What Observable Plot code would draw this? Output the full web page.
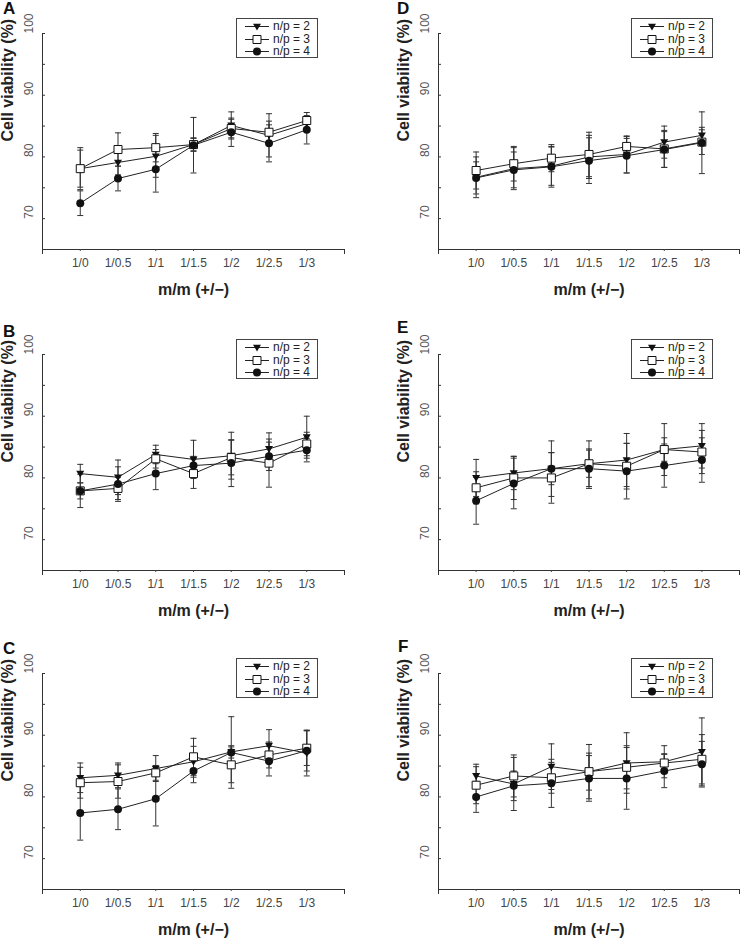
<!DOCTYPE html>
<html>
<head>
<meta charset="utf-8">
<script src="https://cdn.jsdelivr.net/npm/d3@7"></script>
<script src="https://cdn.jsdelivr.net/npm/@observablehq/plot@0.6"></script>
<style>
  html, body { margin: 0; padding: 0; background: #fff; overflow: hidden; }
  #root { position: relative; width: 740px; height: 938px; font-family: "Liberation Sans", Arial, sans-serif; }
  .panel { position: absolute; }
  .letter { position: absolute; font-weight: bold; font-size: 17px; line-height: 18px; color: #111; }
  .legend { position: absolute; width: 80px; height: 38px; border: 1px solid #444; background: #fff; box-sizing: content-box; }
  .legend .row { position: absolute; left: 0; height: 13px; width: 80px; font-size: 12px; line-height: 13px; color: #222; }
  .legend .row svg { position: absolute; left: 6px; top: 0; }
  .legend .row span { position: absolute; left: 36px; top: 0; white-space: nowrap; }
</style>
</head>
<body>
<div id="root"></div>
<script>
// ---------- data ----------
const categories = ["1/0", "1/0.5", "1/1", "1/1.5", "1/2", "1/2.5", "1/3"];
const seriesNames = ["n/p = 2", "n/p = 3", "n/p = 4"];
const yTicks = [70, 80, 90, 100];
const yMinorTicks = [70, 75, 80, 85, 90, 95, 100];
const panelLetters = ["A", "B", "C", "D", "E", "F"];

// Panel A
const A_np2 = [78.1, 79.1, 80.1, 82.0, 85.1, 83.5, 85.4];
const A_np2_sd = [3.0, 2.0, 3.4, 1.0, 2.2, 3.5, 1.0];
const A_np3 = [78.1, 81.2, 81.5, 82.0, 84.6, 84.0, 85.9];
const A_np3_sd = [3.4, 2.7, 2.3, 1.1, 1.5, 1.8, 1.3];
const A_np4 = [72.5, 76.5, 78.0, 81.9, 84.0, 82.2, 84.4];
const A_np4_sd = [2.0, 2.0, 3.7, 4.5, 2.3, 3.0, 2.3];
// Panel B
const B_np2 = [80.7, 80.1, 83.8, 83.0, 83.6, 84.7, 86.6];
const B_np2_sd = [1.5, 2.8, 1.5, 3.1, 3.8, 2.6, 3.4];
const B_np3 = [77.9, 78.3, 83.1, 80.7, 83.3, 82.4, 85.5];
const B_np3_sd = [2.7, 1.8, 1.5, 2.4, 2.8, 3.9, 1.9];
const B_np4 = [77.9, 79.0, 80.7, 82.0, 82.4, 83.5, 84.5];
const B_np4_sd = [1.3, 2.8, 2.6, 1.5, 3.8, 2.3, 1.9];
// Panel C
const C_np2 = [83.1, 83.5, 84.6, 85.7, 87.3, 88.3, 87.1];
const C_np2_sd = [2.4, 2.0, 2.1, 2.5, 1.0, 2.6, 3.7];
const C_np3 = [82.3, 82.5, 83.9, 86.5, 85.2, 86.8, 87.9];
const C_np3_sd = [2.5, 2.7, 1.2, 3.0, 2.9, 2.1, 2.8];
const C_np4 = [77.4, 78.0, 79.7, 84.2, 87.2, 85.8, 87.5];
const C_np4_sd = [4.4, 3.3, 4.4, 1.9, 5.8, 2.4, 3.3];
// Panel D
const D_np2 = [76.7, 78.1, 78.5, 80.0, 80.4, 82.4, 83.5];
const D_np2_sd = [3.3, 3.4, 3.1, 3.5, 3.0, 2.6, 1.3];
const D_np3 = [77.8, 78.9, 79.8, 80.4, 81.7, 81.3, 82.4];
const D_np3_sd = [3.0, 2.8, 2.2, 3.6, 1.6, 3.0, 2.0];
const D_np4 = [76.6, 77.9, 78.4, 79.4, 80.2, 81.2, 82.3];
const D_np4_sd = [2.6, 2.9, 3.3, 3.7, 2.8, 2.9, 5.0];
// Panel E
const E_np2 = [80.0, 80.8, 81.5, 82.3, 82.9, 84.6, 85.2];
const E_np2_sd = [3.0, 2.7, 4.5, 3.7, 4.3, 4.2, 3.6];
const E_np3 = [78.4, 80.0, 80.0, 82.3, 81.9, 84.6, 84.2];
const E_np3_sd = [2.6, 3.5, 4.1, 2.2, 3.7, 1.9, 3.5];
const E_np4 = [76.3, 79.1, 81.5, 81.5, 81.1, 82.0, 82.9];
const E_np4_sd = [3.8, 4.1, 2.6, 3.2, 4.5, 3.5, 3.6];
// Panel F
const F_np2 = [83.4, 82.1, 84.9, 84.1, 85.5, 85.7, 87.3];
const F_np2_sd = [1.9, 4.3, 3.7, 3.0, 4.9, 2.6, 5.5];
const F_np3 = [81.9, 83.4, 83.1, 84.1, 84.8, 85.5, 86.1];
const F_np3_sd = [3.0, 3.4, 2.5, 4.4, 3.5, 1.5, 4.0];
const F_np4 = [80.0, 81.8, 82.2, 83.0, 83.0, 84.2, 85.3];
const F_np4_sd = [2.5, 2.4, 3.9, 3.7, 5.0, 2.7, 3.7];

const panelSeries = {
  A: [[A_np2, A_np2_sd], [A_np3, A_np3_sd], [A_np4, A_np4_sd]],
  B: [[B_np2, B_np2_sd], [B_np3, B_np3_sd], [B_np4, B_np4_sd]],
  C: [[C_np2, C_np2_sd], [C_np3, C_np3_sd], [C_np4, C_np4_sd]],
  D: [[D_np2, D_np2_sd], [D_np3, D_np3_sd], [D_np4, D_np4_sd]],
  E: [[E_np2, E_np2_sd], [E_np3, E_np3_sd], [E_np4, E_np4_sd]],
  F: [[F_np2, F_np2_sd], [F_np3, F_np3_sd], [F_np4, F_np4_sd]]
};

// ---------- symbols ----------
const triangleDown = {
  draw(ctx, size) {
    const r = Math.sqrt(size / Math.PI);
    ctx.moveTo(-r * 1.05, -r * 0.75);
    ctx.lineTo(r * 1.05, -r * 0.75);
    ctx.lineTo(0, r * 1.05);
    ctx.closePath();
  }
};
const squareSym = {
  draw(ctx, size) {
    const r = Math.sqrt(size / Math.PI);
    ctx.rect(-r, -r, 2 * r, 2 * r);
  }
};
const capSym = {
  draw(ctx, size) {
    const r = Math.sqrt(size / Math.PI);
    ctx.moveTo(-r, 0);
    ctx.lineTo(r, 0);
  }
};

// ---------- layout ----------
const FONT = '"Liberation Sans", Arial, sans-serif';
const layout = {
  A: {left: 0, top: 0, width: 370, mr: 26, letterLeft: 3, letterTop: 0},
  B: {left: 0, top: 321, width: 370, mr: 26, letterLeft: 3, letterTop: 323},
  C: {left: 0, top: 640, width: 370, mr: 26, letterLeft: 3, letterTop: 640},
  D: {left: 396, top: 0, width: 344, mr: 1, letterLeft: 397, letterTop: 0},
  E: {left: 396, top: 321, width: 344, mr: 1, letterLeft: 397, letterTop: 319},
  F: {left: 396, top: 640, width: 344, mr: 1, letterLeft: 398, letterTop: 638}
};
const ML = 42, MT = 33, PH = 216, MB = 55;

const root = document.getElementById("root");

function buildPanel(letter) {
  const L = layout[letter];
  const rows = [];
  panelSeries[letter].forEach(([vals, sds], si) => {
    vals.forEach((v, i) => rows.push({series: seriesNames[si], x: i, y: v, sd: sds[i]}));
  });
  const plotW = L.width - ML - L.mr;
  const bySeries = s => rows.filter(d => d.series === s);

  const chart = Plot.plot({
    width: L.width,
    height: MT + PH + MB,
    marginLeft: ML,
    marginRight: L.mr,
    marginTop: MT,
    marginBottom: MB,
    x: {type: "linear", domain: [-1, categories.length]},
    y: {domain: [65, 100], axis: null},
    style: {fontFamily: FONT, fontSize: "12px", background: "transparent", overflow: "visible"},
    marks: [
      Plot.frame({anchor: "left", stroke: "#333"}),
      Plot.frame({anchor: "bottom", stroke: "#333"}),
      Plot.tickY(yMinorTicks, {y: d => d, insetRight: plotW - 3, stroke: "#333"}),
      Plot.text(yTicks, {y: d => d, text: d => String(d), frameAnchor: "left", dx: -13, rotate: -90, fill: "#555", fontSize: 12}),
      Plot.axisX({ticks: categories.map((c, i) => i), tickFormat: i => categories[i], tickSize: 2, tickPadding: 7, color: "#444", fontSize: 12, label: null}),
      Plot.axisX({ticks: [-1, categories.length], tickFormat: () => "", tickSize: 5, color: "#333", label: null}),
      Plot.text(["Cell viability (%)"], {frameAnchor: "left", dx: -35, rotate: -90, fontWeight: "bold", fontSize: 16, fill: "#222"}),
      Plot.text(["m/m (+/\u2212)"], {frameAnchor: "bottom", dy: 45, fontWeight: "bold", fontSize: 16, fill: "#222"}),
      // error bars
      Plot.ruleX(rows, {x: "x", y1: d => d.y - d.sd, y2: d => d.y + d.sd, stroke: "#333", strokeWidth: 1}),
      Plot.dot(rows, {x: "x", y: d => d.y + d.sd, symbol: capSym, r: 3, stroke: "#333", fill: "none", strokeWidth: 1}),
      Plot.dot(rows, {x: "x", y: d => d.y - d.sd, symbol: capSym, r: 3, stroke: "#333", fill: "none", strokeWidth: 1}),
      // lines
      ...seriesNames.map(s => Plot.line(bySeries(s), {x: "x", y: "y", stroke: "#222", strokeWidth: 1})),
      // markers
      Plot.dot(bySeries(seriesNames[0]), {x: "x", y: "y", symbol: triangleDown, r: 3.8, fill: "#111", stroke: "none"}),
      Plot.dot(bySeries(seriesNames[1]), {x: "x", y: "y", symbol: squareSym, r: 4, fill: "#fff", stroke: "#111", strokeWidth: 1}),
      Plot.dot(bySeries(seriesNames[2]), {x: "x", y: "y", symbol: "circle", r: 4, fill: "#111", stroke: "none"})
    ]
  });
  const wrap = document.createElement("div");
  wrap.className = "panel";
  wrap.style.left = L.left + "px";
  wrap.style.top = L.top + "px";
  wrap.appendChild(chart);
  root.appendChild(wrap);

  // panel letter
  const lt = document.createElement("div");
  lt.className = "letter";
  lt.style.left = L.letterLeft + "px";
  lt.style.top = L.letterTop + "px";
  lt.textContent = letter;
  root.appendChild(lt);

  // legend
  const plotRight = L.left + L.width - L.mr;
  const lg = document.createElement("div");
  lg.className = "legend";
  lg.style.left = (plotRight - 108) + "px";
  lg.style.top = (L.top + MT - 15) + "px";
  const syms = [
    {type: triangleDown, size: Math.PI * 3.8 * 3.8, fill: "#111", stroke: "none"},
    {type: squareSym, size: Math.PI * 16, fill: "#fff", stroke: "#111"},
    {type: d3.symbolCircle, size: Math.PI * 16, fill: "#111", stroke: "none"}
  ];
  seriesNames.forEach((name, i) => {
    const row = document.createElement("div");
    row.className = "row";
    row.style.top = (1 + i * 12.5) + "px";
    const svg = d3.create("svg").attr("width", 28).attr("height", 13);
    svg.append("line").attr("x1", 2).attr("x2", 26).attr("y1", 6.5).attr("y2", 6.5).attr("stroke", "#222");
    svg.append("path").attr("transform", "translate(14,6.5)")
      .attr("d", d3.symbol(syms[i].type, syms[i].size)())
      .attr("fill", syms[i].fill).attr("stroke", syms[i].stroke);
    row.appendChild(svg.node());
    const sp = document.createElement("span");
    sp.textContent = name;
    row.appendChild(sp);
    lg.appendChild(row);
  });
  root.appendChild(lg);
}

panelLetters.forEach(buildPanel);
</script>
</body>
</html>
